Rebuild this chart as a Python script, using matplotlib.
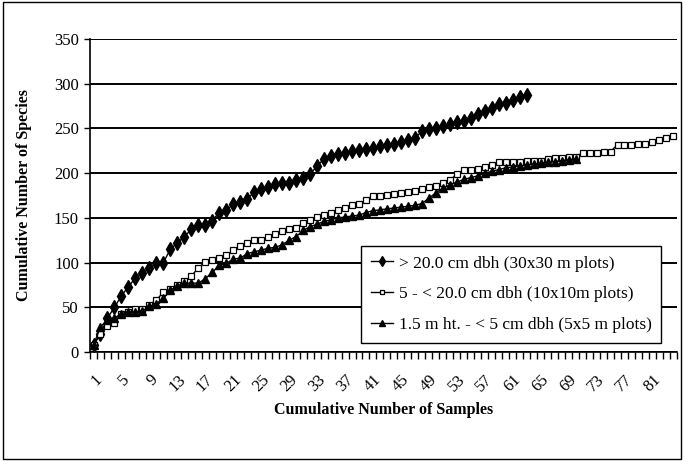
import numpy as np
import matplotlib.pyplot as plt
from matplotlib.patches import Rectangle

plt.rcParams['font.family'] = ['Liberation Serif', 'DejaVu Serif']

# cumulative species counts, one value per sample
large_trees = [8, 20, 38, 50, 63, 73, 83, 88, 94, 99, 100, 115, 122, 129, 137, 142,
               142, 147, 156, 159, 165, 168, 171, 179, 182, 185, 188, 189, 189, 192,
               195, 199, 208, 216, 219, 221, 223, 225, 226, 227, 228, 230, 231, 233,
               235, 237, 239, 247, 249, 251, 253, 255, 257, 258, 262, 266, 270, 273,
               277, 278, 282, 285, 287]
poles = [8, 20, 29, 32, 43, 45, 48, 48, 53, 58, 67, 71, 75, 79, 85, 94, 101, 103,
         105, 108, 114, 119, 122, 125, 125, 129, 132, 135, 137, 139, 144, 148, 151,
         153, 156, 159, 161, 164, 166, 170, 175, 175, 176, 177, 178, 179, 180, 182,
         184, 186, 189, 192, 199, 203, 204, 205, 207, 209, 212, 213, 213, 213, 214,
         214, 214, 216, 217, 217, 218, 218, 223, 223, 223, 224, 224, 232, 232, 232,
         233, 233, 235, 237, 239, 241]
saplings = [8, 28, 36, 38, 43, 45, 45, 46, 51, 54, 60, 69, 74, 77, 77, 77, 82, 89,
            97, 99, 104, 105, 110, 112, 114, 116, 117, 120, 125, 129, 136, 140, 143,
            146, 148, 150, 151, 152, 153, 156, 158, 159, 160, 161, 162, 163, 164, 166,
            172, 178, 183, 187, 190, 193, 195, 197, 200, 202, 204, 206, 207, 208, 209,
            210, 211, 212, 213, 214, 215, 216]

labels = ['> 20.0 cm dbh (30x30 m plots)',
          '5 - < 20.0 cm dbh (10x10m plots)',
          '1.5 m ht. - < 5 cm dbh (5x5 m plots)']

n_samples = len(poles)

fig = plt.figure(figsize=(6.84, 4.61), dpi=100)
ax = fig.add_axes([0.1316, 0.2364, 0.858, 0.679])
fig.patches.append(Rectangle((0.004, 0.004), 0.992, 0.992, transform=fig.transFigure,
                             fill=False, edgecolor='black', linewidth=1))

ax.plot(np.arange(1, len(large_trees) + 1), large_trees, '-', color='black', lw=1,
        marker='d', markersize=7, markerfacecolor='black', label=labels[0])
ax.plot(np.arange(1, len(poles) + 1), poles, '-', color='black', lw=1,
        marker='s', markersize=5, markerfacecolor='white', markeredgewidth=0.9,
        label=labels[1])
ax.plot(np.arange(1, len(saplings) + 1), saplings, '-', color='black', lw=1,
        marker='^', markersize=6, markerfacecolor='black', label=labels[2])

ax.set_xlim(0.5, n_samples + 0.5)
ax.set_ylim(0, 350)
ax.set_yticks(np.arange(0, 351, 50))
ax.grid(axis='y', color='black', linewidth=1.4)
ax.set_axisbelow(True)

ax.set_xticks(np.arange(1, n_samples + 1, 4))
ax.set_xticks(np.arange(0.5, n_samples + 1, 1), minor=True)
ax.tick_params(axis='x', which='major', length=0, pad=14, labelsize=12)
ax.tick_params(axis='x', which='minor', length=5, width=1, direction='out')
ax.tick_params(axis='y', length=4, width=1, labelsize=12, pad=4)
for lab in ax.get_xticklabels():
    lab.set_rotation(45)
    lab.set_ha('right')
    lab.set_rotation_mode('anchor')

for side in ['top', 'right']:
    ax.spines[side].set_visible(False)
ax.spines['left'].set_linewidth(1.2)
ax.spines['bottom'].set_linewidth(1.2)

ax.set_xlabel('Cumulative Number of Samples', fontweight='bold', fontsize=11.5, labelpad=5)
ax.set_ylabel('Cumulative Number of Species', fontweight='bold', fontsize=11.5, labelpad=16)

leg = ax.legend(loc='lower right', bbox_to_anchor=(0.973, 0.029), fontsize=12.5,
                frameon=True, fancybox=False, edgecolor='black', framealpha=1,
                handlelength=1.3, handletextpad=0.3, markerscale=0.7,
                borderpad=0.55, labelspacing=0.85, borderaxespad=0)
leg.get_frame().set_linewidth(1)

plt.savefig('out.png', dpi=100)
